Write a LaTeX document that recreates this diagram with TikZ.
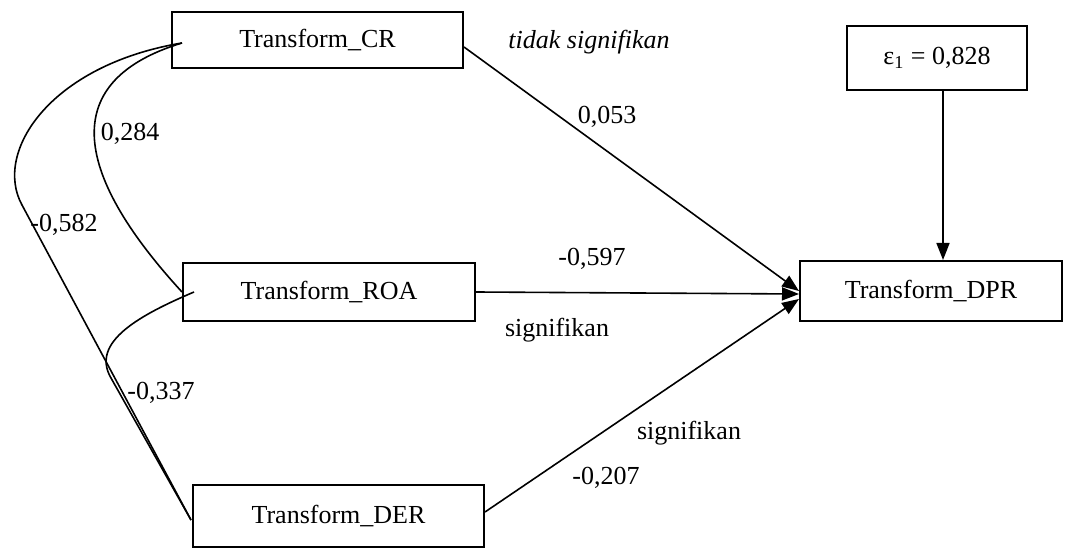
\documentclass[tikz,border=0pt]{standalone}
\usepackage{fontspec}
\setmainfont{Liberation Serif}
\usetikzlibrary{arrows.meta}

\begin{document}
\begin{tikzpicture}[x=0.5pt,y=-0.5pt,
  font=\fontsize{13}{15}\selectfont,
  varbox/.style={draw,line width=1pt,rectangle,inner sep=0pt,align=center},
  path/.style={line width=0.8pt,-{Triangle[length=8.5pt,width=6.5pt]}},
  corr/.style={line width=0.8pt},
  lbl/.style={inner sep=0pt}]
\useasboundingbox (0,0) rectangle (1070,549);

% variables
\node[varbox,minimum width=145.5pt,minimum height=28pt] (CR)  at (317.5,40) {Transform\_CR};
\node[varbox,minimum width=146pt,minimum height=29pt]   (ROA) at (329,292)  {Transform\_ROA};
\node[varbox,minimum width=145.5pt,minimum height=31pt] (DER) at (338.5,516){Transform\_DER};
\node[varbox,minimum width=131pt,minimum height=30pt]   (DPR) at (931,291)  {Transform\_DPR};
\node[varbox,minimum width=90pt,minimum height=32pt]    (eps) at (937,58)   {ε\textsubscript{1} = 0,828};

% correlations between the exogenous variables
\coordinate (crL)  at ([xshift=5.5pt,yshift=-1.5pt]CR.west);
\coordinate (roaL) at ([xshift=6pt]ROA.west);
\coordinate (derL) at ([xshift=-0.5pt,yshift=-2pt]DER.west);
\coordinate (bendA) at (22,205);
\coordinate (bendB) at (111,378);
\draw[corr] (crL) .. controls (60,80) and (70,170) .. (ROA.west);
\draw[corr] (crL) .. controls (50,65) and (-7,152) .. (bendA) -- (derL);
\draw[corr] (roaL) .. controls (140,315) and (90,342) .. (bendB) -- (derL);

% paths to DPR
\draw[path] ([yshift=-3.5pt]CR.east) -- (DPR.west);
\draw[path] (ROA.east) -- ([yshift=-1.5pt]DPR.west);
\draw[path] ([yshift=2pt]DER.east) -- ([yshift=-4pt]DPR.west);
\draw[path] ([xshift=3pt]eps.south) -- ([xshift=3pt]eps.south |- DPR.north);

% coefficients and notes
\node[lbl] (t1) at (589,42)  {\itshape tidak signifikan};
\node[lbl] (c1) at (607,117) {0,053};
\node[lbl] (c2) at (130,134) {0,284};
\node[lbl] (c3) at (64,225)  {-0,582};
\node[lbl] (c4) at (592,259) {-0,597};
\node[lbl] (s1) at (557,330) {signifikan};
\node[lbl] (c5) at (161,393) {-0,337};
\node[lbl] (s2) at (689,433) {signifikan};
\node[lbl] (c6) at (606,478) {-0,207};
\end{tikzpicture}
\end{document}
